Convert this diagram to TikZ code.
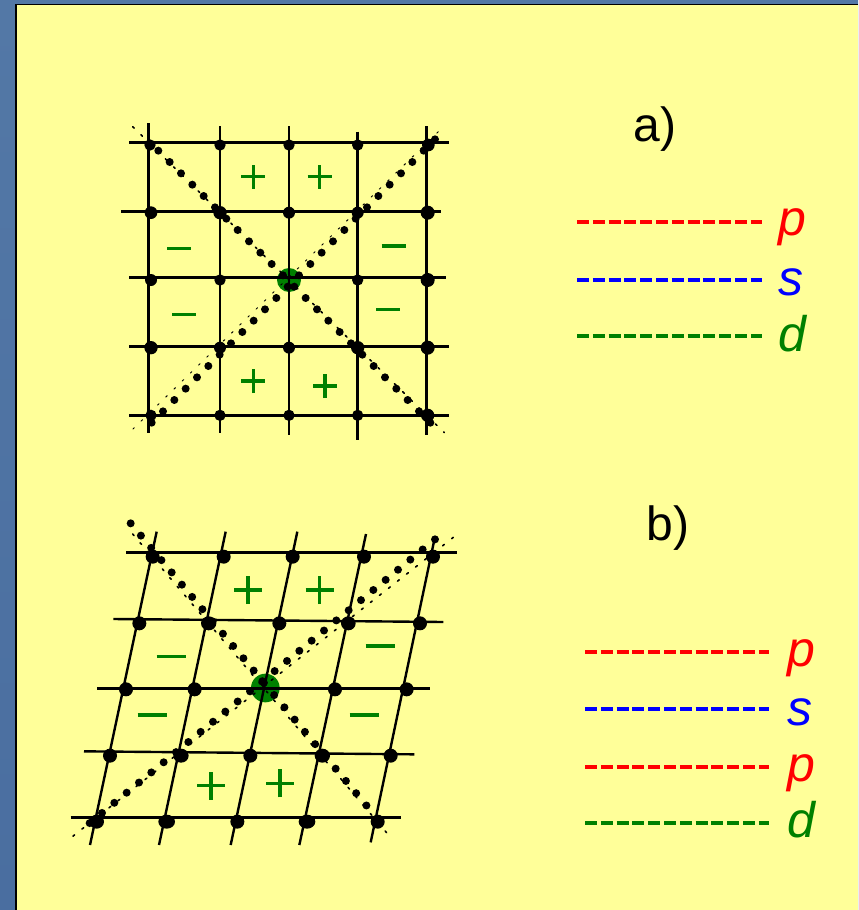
\documentclass[tikz,border=0pt]{standalone}
\usepackage{fontspec}
\setmainfont{Liberation Sans}
\usetikzlibrary{shapes.geometric}
\definecolor{panel}{HTML}{FFFF99}
\definecolor{slate}{HTML}{5378A6}
\definecolor{slatedark}{HTML}{4A6EA0}
\definecolor{dgreen}{HTML}{008000}
\tikzset{
  gridline/.style={black,line width=1.8pt},
  latdot/.style={ellipse,fill=black,inner sep=0pt,outer sep=0pt},
  beadtip/.style={circle,fill=black,inner sep=0pt,outer sep=0pt,minimum size=6pt},
  fine/.style={black,line width=1.2pt,line cap=round,dash pattern=on 1.6pt off 7pt},
  sign/.style={dgreen},
  orbital/.style={line width=3.2pt,dash pattern=on 9pt off 2.85pt},
  letter/.style={anchor=base west,font=\fontsize{37.5pt}{37.5pt}\selectfont\itshape,inner sep=0pt},
  caption/.style={anchor=base,font=\fontsize{36pt}{36pt}\selectfont,inner sep=0pt,text=black}
}
\begin{document}
\begin{tikzpicture}[x=0.75pt,y=-0.75pt]
\useasboundingbox (0,0) rectangle (858,910);
\shade[top color=slate,bottom color=slatedark] (0,0) rectangle (858,910);
\fill[black] (14.5,3.5) rectangle (858,910);
\fill[panel] (16.5,5) rectangle (858,910);

% ---------- panel a ----------
\begin{scope}[shift={(110,110)},x=0.25pt,y=-0.25pt]
\node[circle,fill=dgreen,inner sep=0pt,minimum size=18pt] (acentre) at (537,510) {};
\foreach \n/\px/\py/\qx/\qy in {
  v1/115/40/115/968, v2/330/48/330/968, v3/537/48/537/975, v4/743/65/743/990, v5/949/48/949/975,
  h1/57/98/1016/98, h2/33/304/992/304, h3/57/503/1009/503, h4/57/709/1016/709, h5/57/916/1016/916}{
  \coordinate (a\n s) at (\px,\py);
  \coordinate (a\n e) at (\qx,\qy);
  \draw[gridline] (a\n s) -- (a\n e);
}
\foreach \n/\px/\py/\d in {
  11/120/105/34,12/330/105/34,13/537/105/34,14/743/105/34,15/955/105/38,
  21/123/308/38,22/330/308/40,23/537/308/36,24/743/308/36,25/953/308/42,
  31/123/510/36,32/330/510/34,34/743/510/34,35/953/510/42,
  41/123/713/40,42/330/713/36,43/537/713/36,44/743/713/40,45/953/713/42,
  51/123/916/34,52/330/916/34,53/537/916/34,54/743/916/34,55/953/916/40}{
  \node[latdot,minimum width=\d*0.25pt,minimum height=\d*0.25pt] (a\n) at (\px,\py) {};
}
\foreach \k in {0,...,24}{
  \node[beadtip] (ab\k) at ({145+34*\k},{122+34*\k}) {};
}
\foreach \k in {0,...,25}{
  \node[beadtip] (ac\k) at ({975-34*\k},{88+34*\k}) {};
}
\coordinate (afa) at (68,50); \coordinate (afb) at (1003,968);
\coordinate (afc) at (985,65); \coordinate (afd) at (68,958);
\draw[fine] (afa) -- (afb);
\draw[fine,line width=0.7pt] (afc) -- (afd);
\foreach \n/\px/\py in {1/430/200,2/629/200,3/430/813,4/645/828}{
  \coordinate (apl\n) at (\px,\py);
  \draw[sign,line width=2.4pt] ([xshift=-9pt]apl\n) -- ([xshift=9pt]apl\n);
  \draw[sign,line width=2.4pt] ([yshift=-9pt]apl\n) -- ([yshift=9pt]apl\n);
}
\foreach \n/\px/\py in {1/208/415,2/851/408,3/223/613,4/835/598}{
  \coordinate (ami\n) at (\px,\py);
  \draw[sign,line width=2.4pt] ([xshift=-9pt]ami\n) -- ([xshift=9pt]ami\n);
}
\end{scope}

% ---------- panel b ----------
\begin{scope}[shift={(60,510)},x=0.25pt,y=-0.25pt]
\node[circle,fill=dgreen,inner sep=0pt,minimum size=21.5pt] (bcentre) at (616,534) {};
\foreach \n/\px/\py/\qx/\qy in {
  v1/290/65/90/1005, v2/497/65/297/1005, v3/712/65/512/1005, v4/918/72/718/1005, v5/1125/80/932/997,
  h1/198/128/1190/128, h2/160/327/1150/336, h3/112/535/1110/535, h4/72/724/1063/733, h5/32/923/1022/923}{
  \coordinate (b\n s) at (\px,\py);
  \coordinate (b\n e) at (\qx,\qy);
  \draw[gridline] (b\n s) -- (b\n e);
}
\foreach \n/\px/\py/\w/\h in {
  11/278/140/42/42,12/491/140/42/42,13/698/140/42/42,14/912/140/42/42,15/1119/140/42/42,
  21/238/340/42/42,22/446/340/46/42,23/658/340/42/42,24/865/340/44/42,25/1080/340/42/42,
  31/198/538/42/42,32/404/538/42/42,34/825/538/42/42,35/1040/538/42/42,
  41/150/737/42/42,42/363/737/46/42,43/571/737/42/42,44/787/737/46/42,45/992/737/42/42,
  51/110/935/44/42,52/320/935/50/42,53/532/935/42/42,54/741/935/50/42,55/953/935/42/42}{
  \node[latdot,minimum width=\w*0.25pt,minimum height=\h*0.25pt] (b\n) at (\px,\py) {};
}
\foreach \k in {0,...,23}{
  \node[beadtip] (bb\k) at ({212+30.75*\k},{40+36.8*\k}) {};
}
\foreach \k in {0,...,28}{
  \node[beadtip] (bc\k) at ({1125-37*\k},{88+30.4*\k}) {};
}
\coordinate (bfa) at (218,72); \coordinate (bfb) at (990,980);
\coordinate (bfc) at (1180,82); \coordinate (bfd) at (28,987);
\draw[fine] (bfa) -- (bfb);
\draw[fine] (bfc) -- (bfd);
\foreach \n/\px/\py in {1/564/240,2/779/240,3/453/827,4/660/820}{
  \coordinate (bpl\n) at (\px,\py);
  \draw[sign,line width=2.6pt] ([xshift=-10.5pt]bpl\n) -- ([xshift=10.5pt]bpl\n);
  \draw[sign,line width=2.6pt] ([yshift=-10.5pt]bpl\n) -- ([yshift=10.5pt]bpl\n);
}
\foreach \n/\px/\py/\t in {1/334/439/2.0,2/961/408/2.7,3/277/615/2.6,4/913/615/2.6}{
  \coordinate (bmi\n) at (\px,\py);
  \draw[sign,line width=\t pt] ([xshift=-11pt]bmi\n) -- ([xshift=11pt]bmi\n);
}
\end{scope}

% ---------- captions and legends ----------
\node[caption] (capa) at (655,141) {a)};
\node[caption] (capb) at (668,540) {b)};

\foreach \n/\c/\l/\ly/\ty in {1/red/p/222/235/,2/blue/s/280/295/,3/dgreen/d/336/351/}{
  \coordinate (la\n s) at (577,\ly);
  \coordinate (la\n e) at (762,\ly);
  \draw[orbital,\c] (la\n s) -- (la\n e);
  \node[letter,text=\c] (lat\n) at (778,\ty) {\l};
}
\foreach \n/\c/\l/\ly/\ty in {1/red/p/652/666,2/blue/s/709/725,3/red/p/767/781,4/dgreen/d/823/837}{
  \coordinate (lb\n s) at (585,\ly);
  \coordinate (lb\n e) at (769,\ly);
  \draw[orbital,\c] (lb\n s) -- (lb\n e);
  \node[letter,text=\c] (lbt\n) at (787,\ty) {\l};
}
\end{tikzpicture}
\end{document}
